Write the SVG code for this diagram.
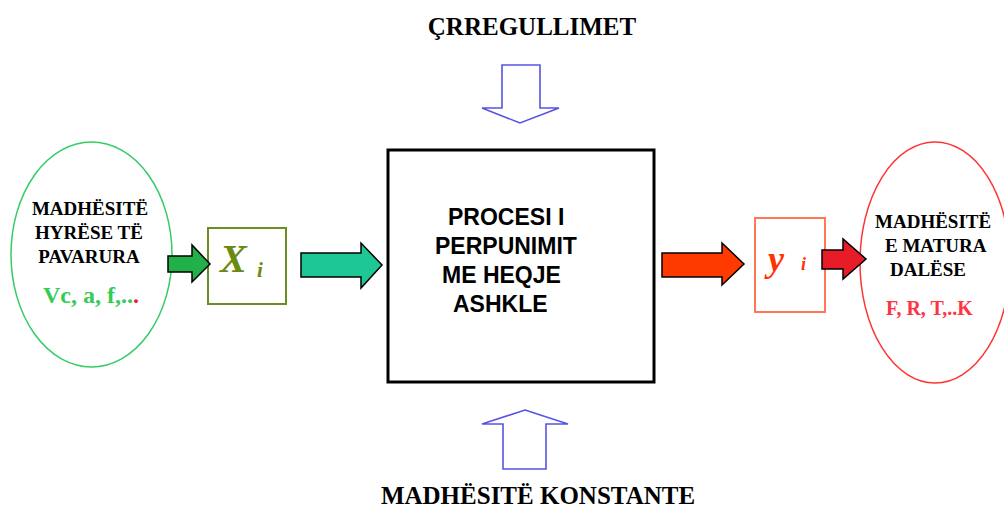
<svg xmlns="http://www.w3.org/2000/svg" width="1004" height="511" viewBox="0 0 1004 511">
  <style>
    .serif { font-family: "Liberation Serif", "Times New Roman", serif; font-weight: bold; }
    .sans { font-family: "Liberation Sans", Arial, sans-serif; font-weight: bold; font-size: 23px; fill: #000; }
    .lbl { font-size: 19px; fill: #000; }
    .title { font-size: 25px; fill: #000; }
    .math { font-family: "Liberation Serif", "Times New Roman", serif; font-style: italic; font-weight: bold; }
    .hollow { fill: #fff; stroke: #5555e0; stroke-width: 1.6; stroke-linejoin: miter; }
    .block { stroke: #000; stroke-width: 1.5; stroke-linejoin: miter; }
  </style>

  <rect width="1004" height="511" fill="#fff"/>

  <!-- disturbances label -->
  <g id="disturbances">
    <text class="serif title" x="532" y="35" text-anchor="middle">ÇRREGULLIMET</text>
  </g>

  <!-- constant quantities label -->
  <g id="constants">
    <text class="serif title" x="538" y="504" text-anchor="middle">MADHËSITË KONSTANTE</text>
  </g>

  <!-- independent input quantities -->
  <g id="inputs">
    <ellipse cx="91.5" cy="254.5" rx="80.5" ry="112.5" fill="#fff" stroke="#33cc66" stroke-width="1.5"/>
    <text class="serif lbl" x="90" y="215" text-anchor="middle">MADHËSITË</text>
    <text class="serif lbl" x="89" y="239" text-anchor="middle">HYRËSE TË</text>
    <text class="serif lbl" x="89" y="263" text-anchor="middle">PAVARURA</text>
    <text class="serif" x="43" y="303" font-size="24" fill="#33cc55">Vc, a, f,..<tspan fill="#ee2233">.</tspan></text>
  </g>

  <!-- input vector -->
  <g id="xi">
    <rect x="208" y="228" width="78" height="76" fill="#fff" stroke="#6b8e23" stroke-width="2"/>
    <text class="math" x="220" y="272" font-size="40" fill="#6b8a12">X</text>
    <text class="math" x="257" y="277" font-size="21" fill="#6b8a12">i</text>
  </g>

  <!-- machining process -->
  <g id="process">
    <rect x="388" y="150" width="266" height="232" fill="#fff" stroke="#000" stroke-width="3"/>
    <text class="sans" x="448" y="225">PROCESI I</text>
    <text class="sans" x="435" y="254">PERPUNIMIT</text>
    <text class="sans" x="442" y="283">ME HEQJE</text>
    <text class="sans" x="453" y="312">ASHKLE</text>
  </g>

  <!-- output vector -->
  <g id="yi">
    <rect x="755" y="218" width="70" height="94" fill="#fff" stroke="#ff7755" stroke-width="2"/>
    <text class="math" x="768" y="271" font-size="36" fill="#ff3300">y</text>
    <text class="math" x="801" y="270" font-size="18" fill="#ff3300">i</text>
  </g>

  <!-- measured output quantities -->
  <g id="outputs">
    <ellipse cx="935" cy="262.5" rx="75" ry="120.5" fill="#fff" stroke="#ff3333" stroke-width="1.5"/>
    <text class="serif lbl" x="875" y="228">MADHËSITË</text>
    <text class="serif lbl" x="885" y="252">E MATURA</text>
    <text class="serif lbl" x="890" y="276">DALËSE</text>
    <text class="serif" x="886" y="315" font-size="20" fill="#ff3344">F, R, T,..K</text>
  </g>

  <!-- block arrows between the stages -->
  <g id="connectors">
    <polygon class="hollow" points="502,65 540,65 540,108 559,108 520,123 482,108 502,108"/>
    <polygon class="hollow" points="525,410 568,424 546,424 546,469 503,469 503,424 482,424"/>
    <polygon class="block" fill="#22b04a" points="168,256 192,256 192,245 210,264 192,282 192,272 168,272"/>
    <polygon class="block" fill="#1dc796" points="301,253 361,253 361,243 382,265 361,288 361,277 301,277"/>
    <polygon class="block" fill="#ff3a00" points="662,253 722,253 722,243 744,264 722,285 722,277 662,277"/>
    <polygon class="block" fill="#e81c28" points="822,250 843,250 843,239 866,259 843,279 843,269 822,269"/>
  </g>
</svg>
